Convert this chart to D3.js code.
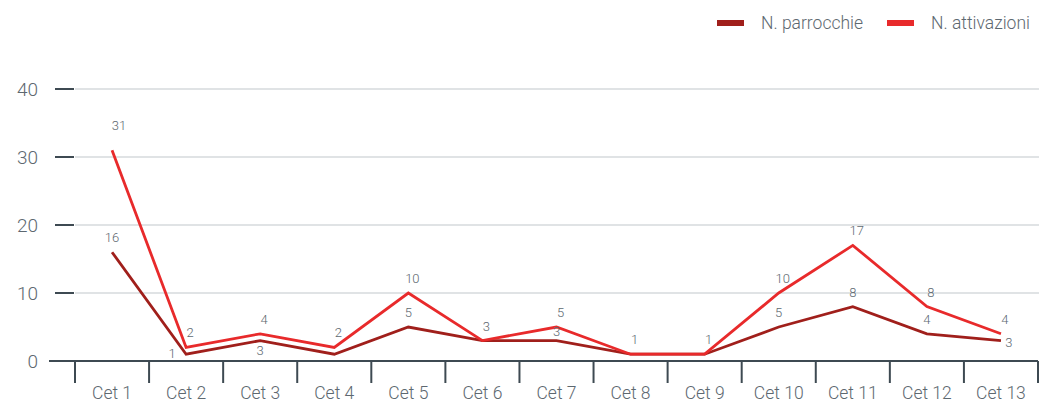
<!DOCTYPE html>
<html>
<head>
<meta charset="utf-8">
<script src="https://cdn.jsdelivr.net/npm/d3@7"></script>
<style>
  body { margin: 0; background: #fff; }
  svg { display: block; font-family: "Roboto", "Open Sans", sans-serif; }
</style>
</head>
<body>
<svg id="chart" width="1039" height="404"></svg>
<script>
const categories = ["Cet 1", "Cet 2", "Cet 3", "Cet 4", "Cet 5", "Cet 6", "Cet 7",
  "Cet 8", "Cet 9", "Cet 10", "Cet 11", "Cet 12", "Cet 13"];
const parrocchie = [16, 1, 3, 1, 5, 3, 3, 1, 1, 5, 8, 4, 3];
const attivazioni = [31, 2, 4, 2, 10, 3, 5, 1, 1, 10, 17, 8, 4];
const yTicks = [0, 10, 20, 30, 40];
const seriesNames = ["N. parrocchie", "N. attivazioni"];

const colParr = "#a01f1b";
const colAtt = "#e82a2b";
const textCol = "#5d6870";
const axisCol = "#3e4a52";

const svg = d3.select("#chart");
const width = +svg.attr("width");

const x = d3.scaleBand()
  .domain(categories)
  .range([75, 1038])
  .padding(0);

const y = d3.scaleLinear()
  .domain([0, 40])
  .range([361, 89]);

const cx = (d, i) => x(categories[i]) + x.bandwidth() / 2;

// gridlines
svg.append("g")
  .selectAll("line")
  .data(yTicks.filter(t => t > 0))
  .enter()
  .append("line")
  .attr("x1", 75)
  .attr("x2", width)
  .attr("y1", d => y(d))
  .attr("y2", d => y(d))
  .attr("stroke", "#d6dadd")
  .attr("stroke-width", 1.5);

// y axis: short ticks + labels
const yAxis = svg.append("g");
yAxis.selectAll("line")
  .data(yTicks.filter(t => t > 0))
  .enter()
  .append("line")
  .attr("x1", 55)
  .attr("x2", 74)
  .attr("y1", d => y(d))
  .attr("y2", d => y(d))
  .attr("stroke", axisCol)
  .attr("stroke-width", 2);

yAxis.selectAll("text")
  .data(yTicks)
  .enter()
  .append("text")
  .attr("x", 38)
  .attr("y", d => y(d))
  .attr("dy", "0.35em")
  .attr("text-anchor", "end")
  .attr("fill", textCol)
  .attr("font-size", "19px")
  .attr("font-weight", 300)
  .text(d => d);

// x axis
const xAxis = svg.append("g");
xAxis.append("line")
  .attr("x1", 49)
  .attr("x2", 1038)
  .attr("y1", y(0))
  .attr("y2", y(0))
  .attr("stroke", axisCol)
  .attr("stroke-width", 2);

const bounds = categories.map(c => x(c)).concat([x.range()[1]]);
xAxis.selectAll("line.sep")
  .data(bounds)
  .enter()
  .append("line")
  .attr("class", "sep")
  .attr("x1", d => d)
  .attr("x2", d => d)
  .attr("y1", y(0))
  .attr("y2", y(0) + 22)
  .attr("stroke", axisCol)
  .attr("stroke-width", 2);

xAxis.selectAll("text")
  .data(categories)
  .enter()
  .append("text")
  .attr("x", d => x(d) + x.bandwidth() / 2)
  .attr("y", 399)
  .attr("text-anchor", "middle")
  .attr("fill", textCol)
  .attr("font-size", "17.5px")
  .attr("font-weight", 300)
  .text(d => d);

// lines
const line = d3.line()
  .x(cx)
  .y(d => y(d));

[[parrocchie, colParr], [attivazioni, colAtt]].forEach(([vals, col]) => {
  svg.append("path")
    .datum(vals)
    .attr("fill", "none")
    .attr("stroke", col)
    .attr("stroke-width", 2.8)
    .attr("d", line);
});

// value labels
const labels = svg.append("g")
  .attr("fill", textCol)
  .attr("font-size", "13px")
  .attr("font-weight", 300)
  .attr("text-anchor", "middle");

attivazioni.forEach((v, i) => {
  labels.append("text")
    .attr("x", cx(v, i) + (i === 0 ? 7 : 4))
    .attr("y", y(v) - (i === 0 ? 20 : 10))
    .text(v);
});

parrocchie.forEach((v, i) => {
  const a = attivazioni[i];
  if (v === a) return;
  let dx = 0, dy = -10;
  if (a - v <= 1) {
    if (v < 2) { dx = -14; dy = 4; }
    else { dx = 0; dy = 14; }
  } else if (a - v <= 2) {
    dy = -5;
  }
  if (i === categories.length - 1) { dx = 8; dy = 6; }
  if (i === 3) return;
  labels.append("text")
    .attr("x", cx(v, i) + dx)
    .attr("y", y(v) + dy)
    .text(v);
});

// legend
const legend = svg.append("g");
const legendItems = [
  { name: seriesNames[0], col: colParr, x: 717 },
  { name: seriesNames[1], col: colAtt, x: 887 }
];
legendItems.forEach(d => {
  legend.append("rect")
    .attr("x", d.x)
    .attr("y", 20)
    .attr("width", 27)
    .attr("height", 6)
    .attr("fill", d.col);
  legend.append("text")
    .attr("x", d.x + 44)
    .attr("y", 23)
    .attr("dy", "0.35em")
    .attr("fill", textCol)
    .attr("font-size", "17.5px")
    .attr("font-weight", 300)
    .text(d.name);
});
</script>
</body>
</html>
